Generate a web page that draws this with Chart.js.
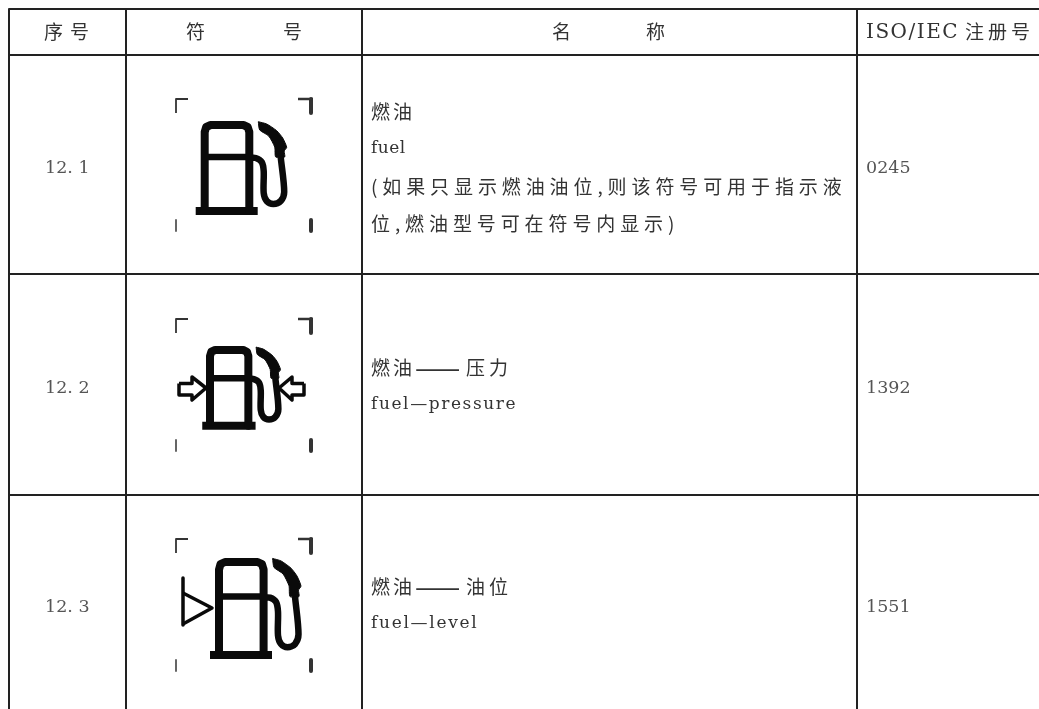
<!DOCTYPE html>
<html>
<head>
<meta charset="utf-8">
<style>
  html, body { margin: 0; padding: 0; background: #fff; overflow: hidden; }
  canvas { display: block; filter: blur(0.7px); }
</style>
<script src="https://cdn.jsdelivr.net/npm/chart.js@4"></script>
</head>
<body>
<canvas id="myChart" width="1039" height="709"></canvas>
<script>
/* table content */
const headerCells = ['序号', '符', '号', '名', '称', 'ISO/IEC', '注册号'];
const rowNumbers = ['12. 1', '12. 2', '12. 3'];
const isoNumbers = ['0245', '1392', '1551'];
const rowNames = [
  ['燃油', 'fuel', '(如果只显示燃油油位,则该符号可用于指示液', '位,燃油型号可在符号内显示)'],
  ['燃油', '——', '压力', 'fuel—pressure'],
  ['燃油', '——', '油位', 'fuel—level']
];

/* table rules, in picture units */
const columnEdges = [9, 126, 362, 857];
const rowEdges = [9, 55, 274, 495];

/* fuel pump symbol, local units from the top left of the body */
const pumpBody = [[0, 86], [0, 7], [1.5, 2], [6, 0], [38.6, 0], [43, 2], [44.6, 7], [44.6, 86]];
const pumpBase = [[-9, 86], [53, 86]];
const pumpBar = [[0, 32], [44.6, 32]];
const pumpHose = [[44.6, 33], [51, 33], [57, 37], [59, 46], [59, 68], [62, 76], [68.6, 79], [76, 76], [79.5, 67], [76, 32]];
const pumpNozzle = [[53.6, -3.3], [62, -1], [72, 5.7], [78, 13], [82, 22.3], [79.5, 26], [80, 32], [71, 32], [70, 22], [64, 11], [55, 5], [53.6, -3.3]];
const arrowLeft = [[179, 383.5], [192, 383.5], [192, 377], [206, 388], [192, 400], [192, 395], [179, 395], [179, 383.5]];
const arrowRight = [[304, 383.5], [292, 383.5], [292, 377], [279, 388], [292, 400], [292, 395], [304, 395], [304, 383.5]];
const levelStem = [[183, 578], [183, 625]];
const levelMark = [[183, 593], [212, 608], [183, 624]];

/* symbols per row: body left, body top, x scale, y scale, crop mark top */
const pumpPlacing = [
  [204.7, 125, 1, 1, 99],
  [210, 350, 0.86, 0.88, 319],
  [219, 562, 1, 1.08, 539]
];

function toPoints(list) {
  return list.map(p => ({ x: p[0], y: p[1] }));
}
function placed(list, place) {
  return list.map(p => ({ x: place[0] + p[0] * place[2], y: place[1] + p[1] * place[3] }));
}
function lineSet(points, width, tension, color) {
  return {
    data: points,
    showLine: true,
    fill: false,
    borderColor: color || '#0a0a0a',
    borderWidth: width,
    borderJoinStyle: 'round',
    borderCapStyle: 'butt',
    pointRadius: 0,
    tension: tension || 0,
    clip: false
  };
}

const datasets = [];

/* grid */
rowEdges.forEach(y => {
  datasets.push(lineSet(toPoints([[columnEdges[0], y], [1039, y]]), 2, 0, '#222'));
});
columnEdges.forEach(x => {
  datasets.push(lineSet(toPoints([[x, rowEdges[0]], [x, 709]]), 2, 0, '#222'));
});

/* symbols */
pumpPlacing.forEach(place => {
  datasets.push(lineSet(placed(pumpBody, place), 8));
  datasets.push(lineSet(placed(pumpBase, place), 8));
  datasets.push(lineSet(placed(pumpBar, place), 6.5));
  datasets.push(lineSet(placed(pumpHose, place), 6.5, 0.3));
  const nozzle = lineSet(placed(pumpNozzle, place), 1, 0.2);
  nozzle.fill = 'shape';
  nozzle.backgroundColor = '#0a0a0a';
  datasets.push(nozzle);

  const top = place[4];
  datasets.push(lineSet(toPoints([[176, top + 14], [176, top], [188, top]]), 1.8, 0, '#333'));
  datasets.push(lineSet(toPoints([[298, top], [313, top]]), 2.5, 0, '#333'));
  datasets.push(lineSet(toPoints([[311, top], [311, top + 14]]), 4, 0, '#333'));
  datasets.push(lineSet(toPoints([[176, top + 121], [176, top + 132]]), 1.8, 0, '#555'));
  datasets.push(lineSet(toPoints([[311, top + 121], [311, top + 132]]), 4, 0, '#333'));
});
datasets.push(lineSet(toPoints(arrowLeft), 3.5));
datasets.push(lineSet(toPoints(arrowRight), 3.5));
datasets.push(lineSet(toPoints(levelStem), 3.5));
datasets.push(lineSet(toPoints(levelMark), 3.5));

/* all the text goes through the scales too */
const SERIF = '"DejaVu Serif", "Liberation Serif", serif';
const CJK = '"Noto Sans CJK SC", "DejaVu Serif", sans-serif';
const tablePrint = {
  id: 'tablePrint',
  afterDatasetsDraw(chart) {
    const ctx = chart.ctx;
    const sx = chart.scales.x, sy = chart.scales.y;
    function put(text, x, y, font, spacing, color) {
      ctx.font = font;
      ctx.letterSpacing = (spacing || 0) + 'px';
      ctx.fillStyle = color || '#333';
      ctx.textBaseline = 'middle';
      ctx.textAlign = 'left';
      ctx.fillText(text, sx.getPixelForValue(x), sy.getPixelForValue(y));
    }
    const zh = '19px ' + CJK;
    const en = '17px ' + SERIF;

    put(headerCells[0], 44, 32, zh, 7);
    put(headerCells[1], 186, 32, zh);
    put(headerCells[2], 283, 32, zh);
    put(headerCells[3], 552, 32, zh);
    put(headerCells[4], 646, 32, zh);
    put(headerCells[5], 866, 33, '20px ' + SERIF, 1.5);
    put(headerCells[6], 965, 32, zh, 4);

    rowNumbers.forEach((t, i) => {
      const mid = [168, 388, 607][i];
      put(t, 45, mid, '17.5px ' + SERIF, 0, '#555');
      put(isoNumbers[i], 866, mid, '17.5px ' + SERIF, 0, '#555');
    });

    put(rowNames[0][0], 371, 112, zh, 3);
    put(rowNames[0][1], 371, 149, en, 0.5);
    put(rowNames[0][2], 371, 187, zh, 4.9);
    put(rowNames[0][3], 371, 224, zh, 4.9);

    [[368, 405, 1.6], [587, 624, 1.7]].forEach((at, i) => {
      const cells = rowNames[i + 1];
      put(cells[0], 371, at[0], zh, 3);
      put(cells[1], 415, at[0], '27px ' + CJK, 0);
      put(cells[2], 466, at[0], zh, 4);
      put(cells[3], 371, at[1], en, at[2]);
    });
  }
};

chart = new Chart(document.getElementById('myChart'), {
  type: 'scatter',
  data: { datasets: datasets },
  options: {
    responsive: false,
    animation: false,
    layout: { padding: 0 },
    plugins: { legend: { display: false }, tooltip: { enabled: false } },
    scales: {
      x: { type: 'linear', min: 0, max: 1039, display: false },
      y: { type: 'linear', min: 0, max: 709, reverse: true, display: false }
    }
  },
  plugins: [tablePrint]
});
</script>
</body>
</html>
